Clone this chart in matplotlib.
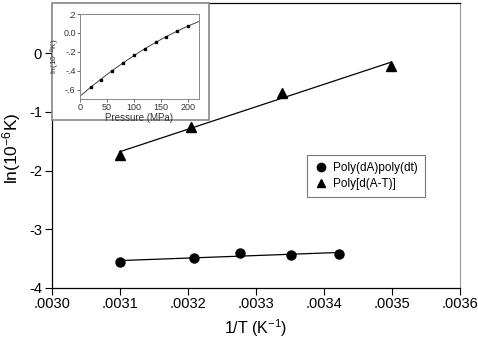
import numpy as np
import matplotlib
matplotlib.use("Agg")
import matplotlib.pyplot as plt
from matplotlib.patches import Rectangle
from matplotlib.ticker import FuncFormatter

plt.rcParams['font.family'] = ['Liberation Sans', 'DejaVu Sans']
plt.rcParams['axes.unicode_minus'] = False
plt.rcParams['mathtext.fontset'] = 'custom'
plt.rcParams['mathtext.rm'] = 'Liberation Sans'
plt.rcParams['mathtext.default'] = 'regular'

# Main data
x_circ = [0.003100, 0.003209, 0.003277, 0.003352, 0.003423]
y_circ = [-3.56, -3.49, -3.41, -3.44, -3.42]
x_tri = [0.003100, 0.003205, 0.003339, 0.003499]
y_tri = [-1.73, -1.26, -0.67, -0.21]
label_circ = "Poly(dA)poly(dt)"
label_tri = "Poly[d(A-T)]"

# Inset data
pressure = [20, 40, 60, 80, 100, 120, 140, 160, 180, 200]
lnk_p = [-0.57, -0.494, -0.40, -0.317, -0.239, -0.165, -0.10, -0.041, 0.019, 0.072]

fig = plt.figure(figsize=(4.78, 3.38), dpi=100)
ax = fig.add_axes([0.108, 0.149, 0.854, 0.842])

# regression lines
pc = np.polyfit(x_circ, y_circ, 1)
xc = np.array([min(x_circ), max(x_circ)])
ax.plot(xc, np.polyval(pc, xc), color='black', lw=0.9)
pt = np.polyfit(x_tri, y_tri, 1)
xt = np.array([min(x_tri), max(x_tri)])
ax.plot(xt, np.polyval(pt, xt), color='black', lw=0.9)

ax.plot(x_circ, y_circ, 'o', color='black', ms=6.5, label=label_circ)
ax.plot(x_tri, y_tri, '^', color='black', ms=7.5, label=label_tri)

ax.set_xlim(0.0030, 0.0036)
ax.set_ylim(-4, 0.86)
ax.set_xticks(np.arange(0.0030, 0.00361, 0.0001))
ax.xaxis.set_major_formatter(FuncFormatter(lambda v, p: ("%.4f" % v).lstrip('0')))
ax.set_yticks([-4, -3, -2, -1, 0])
ax.tick_params(axis='both', direction='out', length=5, width=0.8, labelsize=10.5,
               top=False, right=False, pad=2)
ax.set_xlabel("1/T (K$^{-1}$)", fontsize=11.5, labelpad=4)
ax.set_ylabel("ln(10$^{-6}$K)", fontsize=12.5, labelpad=3)
ax.yaxis.set_label_coords(-0.070, 0.49)
ax.spines['right'].set_color('#999999')
for s in ['left', 'bottom', 'top']:
    ax.spines[s].set_linewidth(0.9)

leg = ax.legend(loc='upper left', bbox_to_anchor=(0.625, 0.466), frameon=True,
                fancybox=False, edgecolor='#555555', fontsize=8.5, handletextpad=0.4,
                borderpad=0.6, labelspacing=0.35, handlelength=1.2, borderaxespad=0)
leg.get_frame().set_linewidth(0.8)
for h in leg.legend_handles:
    h.set_markersize(6)

# inset frame
rect = Rectangle((0.108, 0.645), 0.329, 0.346, transform=fig.transFigure,
                 facecolor='white', edgecolor='#888888', lw=1.2, zorder=5)
fig.patches.append(rect)

axi = fig.add_axes([0.167, 0.707, 0.249, 0.2515], zorder=10)
pi = np.polyfit(pressure, lnk_p, 2)
xx = np.linspace(0, 220, 100)
axi.plot(xx, np.polyval(pi, xx), color='#444444', lw=0.7)
axi.plot(pressure, lnk_p, 's', color='black', ms=1.8)
axi.set_xlim(0, 220)
axi.set_ylim(-0.7, 0.2)
axi.set_xticks([0, 50, 100, 150, 200])
axi.set_yticks([0.2, 0.0, -0.2, -0.4, -0.6])
axi.set_yticklabels(['.2', '0.0', '-.2', '-.4', '-.6'])
axi.tick_params(direction='out', length=2, width=0.5, labelsize=6.5, pad=1,
                colors='#333333')
axi.set_xlabel("Pressure (MPa)", fontsize=7, labelpad=0.5, color='#333333')
axi.set_ylabel("ln(10$^{-6}$K)", fontsize=6, labelpad=1, color='#333333')
for s in axi.spines.values():
    s.set_color('#888888')
    s.set_linewidth(0.7)

fig.savefig("out.png", dpi=100)
